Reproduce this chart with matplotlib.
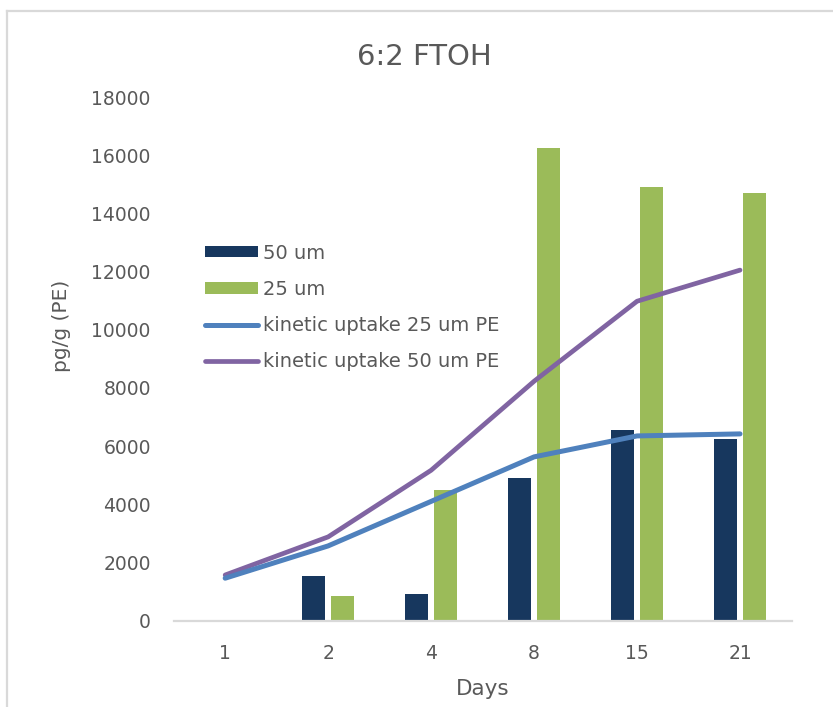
import matplotlib.pyplot as plt
from matplotlib.lines import Line2D
import numpy as np

days = ["1", "2", "4", "8", "15", "21"]
pe_50um = [0, 1550, 915, 4910, 6560, 6250]
pe_25um = [0, 865, 4500, 16260, 14910, 14690]
uptake_25um = [1460, 2570, 4100, 5630, 6350, 6420]
uptake_50um = [1570, 2880, 5170, 8230, 10980, 12050]

grey_txt = '#595959'
grey_line = '#d9d9d9'

plt.rcParams['font.family'] = 'DejaVu Sans'

fig = plt.figure(figsize=(8.33, 7.07), dpi=100)
ax = fig.add_axes([0.2085, 0.1221, 0.7417, 0.7407])

x = np.arange(len(days))
w = 0.223
off = 0.139

b1 = ax.bar(x - off, pe_50um, w, color='#17375e', label='50 um', zorder=2)
b2 = ax.bar(x + off, pe_25um, w, color='#9bbb59', label='25 um', zorder=2)
l2, = ax.plot(x, uptake_50um, color='#8064a2', lw=3.4, solid_capstyle='round',
              solid_joinstyle='round', label='kinetic uptake 50 um PE', zorder=3)
l1, = ax.plot(x, uptake_25um, color='#4f81bd', lw=3.6, solid_capstyle='round',
              solid_joinstyle='round', label='kinetic uptake 25 um PE', zorder=4)

ax.set_xlim(-0.5, len(days) - 0.5)
ax.set_ylim(0, 18000)
ax.set_yticks(np.arange(0, 18001, 2000))
ax.set_xticks(x)
ax.set_xticklabels(days)

for s in ['top', 'right', 'left']:
    ax.spines[s].set_visible(False)
ax.spines['bottom'].set_color(grey_line)
ax.spines['bottom'].set_linewidth(1.6)
ax.spines['bottom'].set_zorder(5)

ax.tick_params(axis='both', length=0, labelsize=13.5, labelcolor=grey_txt)
ax.tick_params(axis='x', pad=17)
ax.tick_params(axis='y', pad=16.5)

ax.set_xlabel('Days', fontsize=15.5, color=grey_txt)
ax.xaxis.set_label_coords(0.5, -0.112)
ax.set_ylabel('pg/g (PE)', fontsize=14.5, color=grey_txt)
ax.yaxis.set_label_coords(-0.166, 0.563)

fig.suptitle('6:2 FTOH', x=0.5096, y=0.920, va='center', fontsize=21, color=grey_txt)

leg = ax.legend(handles=[b1, b2, l1, l2], loc='center left',
                bbox_to_anchor=(0.2461, 0.5651), bbox_transform=fig.transFigure,
                frameon=False, fontsize=14, borderpad=0, borderaxespad=0,
                handlelength=2.7, handleheight=0.51, handletextpad=0.28,
                labelspacing=0.89)
for t in leg.get_texts():
    t.set_color(grey_txt)

# chart frame: only its left and top edges fall inside the picture
fx, fy = 0.0090, 0.9844
fig.lines.append(Line2D([fx, fx], [0, fy], transform=fig.transFigure, color=grey_line, lw=1.6))
fig.lines.append(Line2D([fx, 1], [fy, fy], transform=fig.transFigure, color=grey_line, lw=1.6))

fig.savefig('out.png', dpi=100)
